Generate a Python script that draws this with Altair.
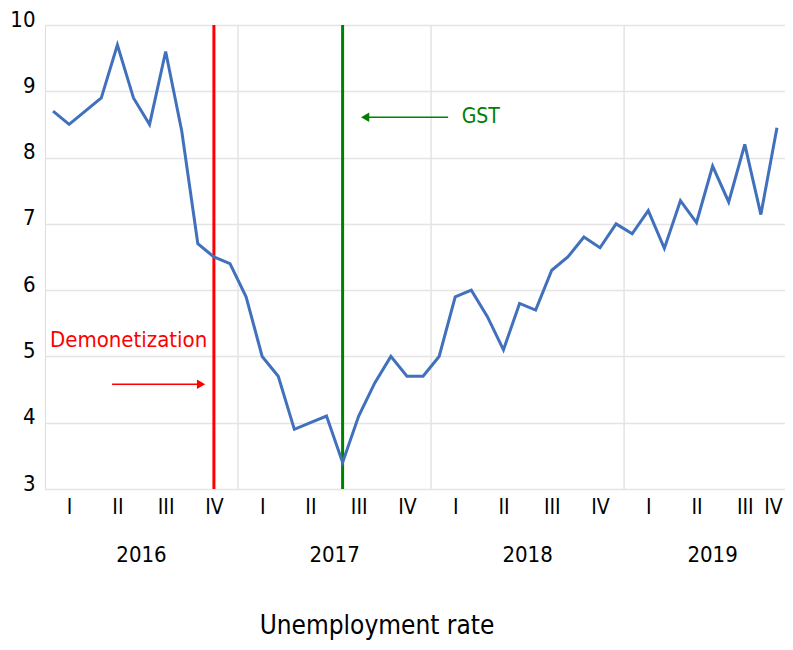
import altair as alt
import pandas as pd

# Monthly unemployment rate, Jan 2016 - Oct 2019
rate = [8.7, 8.5, 8.7, 8.9, 9.7, 8.9, 8.5, 9.6, 8.4, 6.7, 6.5, 6.4,
        5.9, 5.0, 4.7, 3.9, 4.0, 4.1, 3.4, 4.1, 4.6, 5.0, 4.7, 4.7,
        5.0, 5.9, 6.0, 5.6, 5.1, 5.8, 5.7, 6.3, 6.5, 6.8, 6.64, 7.0,
        6.85, 7.2, 6.63, 7.35, 7.02, 7.87, 7.33, 8.2, 7.14, 8.45]
month_idx = list(range(len(rate)))

quarter_pos = [1.5, 4.5, 7.5, 10.5, 13.5, 16.5, 19.5, 22.5,
               25.5, 28.5, 31.5, 34.5, 37.5, 40.5, 43.5, 45.25]
quarter_names = ["I", "II", "III", "IV"]

year_labels = ["2016", "2017", "2018", "2019"]
year_pos = [6, 18, 30, 41.5]
year_bounds = [12, 24, 36]

event_names = ["Demonetization", "GST"]
event_pos = [10.5, 18.5]
event_colors = ["#FF0000", "#008000"]

# annotation arrows (tail, head) and labels in data units
arrow_x = [4.17, 25.06]
arrow_x2 = [9.7, 19.9]
arrow_y = [4.58, 8.61]
arrow_shape = ["triangle-right", "triangle-left"]
label_x = [0.31, 25.9]
label_y = [5.25, 8.61]
label_size = [22, 21]

FONT = "DejaVu Sans Condensed, Liberation Sans, sans-serif"

df = pd.DataFrame({"m": [i + 0.5 for i in month_idx], "rate": rate})
years = pd.DataFrame({"x": year_pos, "label": year_labels})
bounds = pd.DataFrame({"x": year_bounds})
events = pd.DataFrame({"x": event_pos, "name": event_names, "color": event_colors})
arrows = pd.DataFrame({"x": arrow_x, "x2": arrow_x2, "y": arrow_y,
                       "shape": arrow_shape, "color": event_colors})
labels = pd.DataFrame({"x": label_x, "y": label_y, "text": event_names,
                       "color": event_colors, "size": label_size})

xscale = alt.Scale(domain=[0, 46], nice=False, zero=False)
yscale = alt.Scale(domain=[3, 10], nice=False, zero=False)

qexpr = "['I','II','III','IV'][floor(datum.value/3) % 4]"

base_x = alt.X("m:Q", scale=xscale, title=None,
               axis=alt.Axis(values=quarter_pos, labelExpr=qexpr, grid=False,
                             ticks=False, domain=False, labelFontSize=21,
                             labelFont=FONT, labelColor="#000000",
                             labelPadding=18, labelBaseline="middle",
                             labelFlush=False, labelOverlap=False))
base_y = alt.Y("rate:Q", scale=yscale, title=None,
               axis=alt.Axis(values=list(range(3, 11)), format="d", grid=True,
                             gridColor="#E4E4E4", gridWidth=1.5,
                             ticks=False, domain=False, labelFontSize=22,
                             labelFont=FONT, labelColor="#000000",
                             labelPadding=10, labelBaseline="alphabetic",
                             labelOffset=1))

line = alt.Chart(df).mark_line(color="#4170BC", strokeWidth=3).encode(x=base_x, y=base_y)

grid_v = alt.Chart(bounds).mark_rule(color="#E4E4E4", strokeWidth=1.5).encode(
    x=alt.X("x:Q", scale=xscale))

event_rules = alt.Chart(events).mark_rule(strokeWidth=3).encode(
    x=alt.X("x:Q", scale=xscale),
    color=alt.Color("color:N", scale=None))

arrow_lines = alt.Chart(arrows).mark_rule(strokeWidth=1.5).encode(
    x=alt.X("x:Q", scale=xscale), x2="x2:Q",
    y=alt.Y("y:Q", scale=yscale),
    color=alt.Color("color:N", scale=None))

arrow_heads = alt.Chart(arrows).mark_point(filled=True, size=90, opacity=1).encode(
    x=alt.X("x2:Q", scale=xscale),
    y=alt.Y("y:Q", scale=yscale),
    shape=alt.Shape("shape:N", scale=None),
    color=alt.Color("color:N", scale=None))

ann_text = alt.Chart(labels).mark_text(align="left", baseline="middle", font=FONT).encode(
    x=alt.X("x:Q", scale=xscale),
    y=alt.Y("y:Q", scale=yscale),
    text="text:N",
    size=alt.Size("size:Q", scale=None),
    color=alt.Color("color:N", scale=None))

year_text = alt.Chart(years).mark_text(baseline="middle", fontSize=22, font=FONT,
                                       color="#000000").encode(
    x=alt.X("x:Q", scale=xscale),
    y=alt.value(530),
    text="label:N")

chart = alt.layer(grid_v, event_rules, line, arrow_lines, arrow_heads, ann_text, year_text).properties(
    width=740, height=464,
    autosize=alt.AutoSizeParams(type="none"),
    padding={"left": 37, "top": 17, "right": 0, "bottom": 153},
    title=alt.TitleParams("Unemployment rate", orient="bottom", fontSize=26,
                          font=FONT, fontWeight="normal", color="#000000",
                          offset=47, dx=-38),
).configure_view(stroke="#BFBFBF", strokeWidth=1.5).configure(background="white")

chart.save("out.html", embed_options={"renderer": "svg", "actions": False})
